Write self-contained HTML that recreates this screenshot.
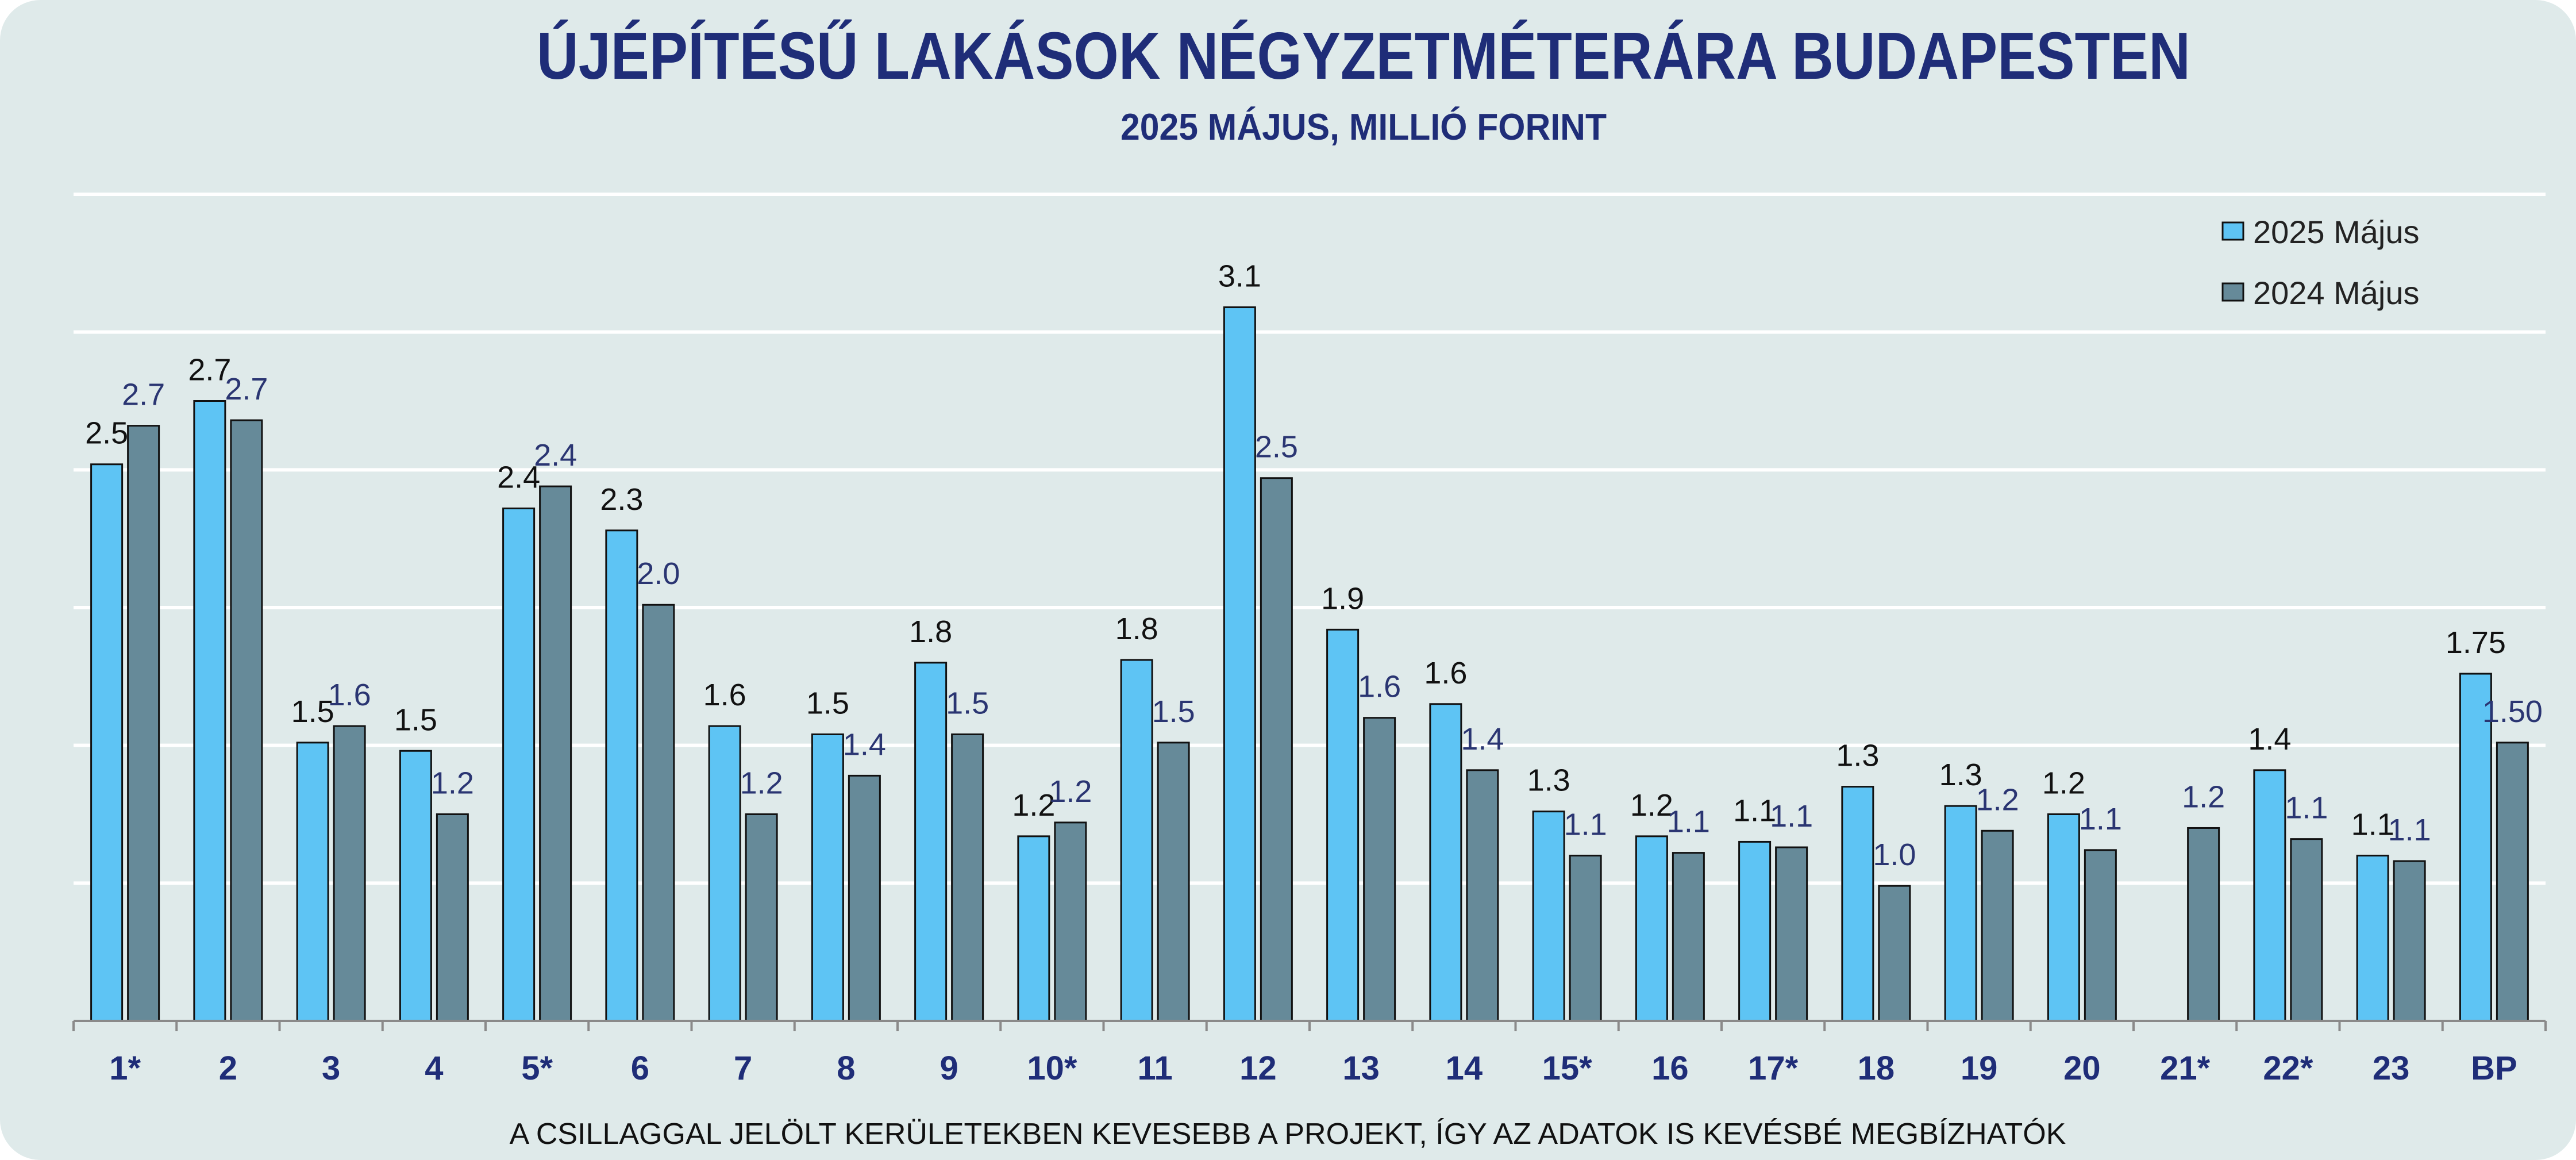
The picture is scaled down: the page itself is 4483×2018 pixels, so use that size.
<!DOCTYPE html>
<html><head><meta charset="utf-8"><style>
html,body{margin:0;padding:0;background:#fff;}
svg{display:block;font-family:"Liberation Sans",sans-serif;}
</style></head><body>
<svg id="chart" width="4483" height="2018" viewBox="0 0 4483 2018">
<rect x="0" y="0" width="4483" height="2018" rx="70" fill="#dfeaea"/>
<text x="2373" y="137" font-size="116" font-weight="bold" fill="#1f2d78" text-anchor="middle" textLength="2878" lengthAdjust="spacingAndGlyphs">ÚJÉPÍTÉSŰ LAKÁSOK NÉGYZETMÉTERÁRA BUDAPESTEN</text>
<text x="2373" y="243" font-size="65" font-weight="bold" fill="#1f2d78" text-anchor="middle" textLength="846" lengthAdjust="spacingAndGlyphs">2025 MÁJUS, MILLIÓ FORINT</text>
<g id="grid"></g>
<g id="bars"></g>
<g id="labels"></g>
<g id="axis"></g>
<g>
<rect x="3868" y="387" width="36" height="30" fill="#5ec4f4" stroke="#111" stroke-width="3"/>
<text x="3921" y="423" font-size="56" fill="#222">2025 Május</text>
<rect x="3868" y="493" width="36" height="30" fill="#668a99" stroke="#111" stroke-width="3"/>
<text x="3921" y="529" font-size="56" fill="#222">2024 Május</text>
</g>
<text x="2241" y="1990" font-size="52" fill="#111" text-anchor="middle">A CSILLAGGAL JELÖLT KERÜLETEKBEN KEVESEBB A PROJEKT, ÍGY AZ ADATOK IS KEVÉSBÉ MEGBÍZHATÓK</text>
</svg>
<script>
const categories = ["1*","2","3","4","5*","6","7","8","9","10*","11","12","13","14","15*","16","17*","18","19","20","21*","22*","23","BP"];
const values2025 = [2.52,2.75,1.51,1.48,2.36,2.28,1.57,1.54,1.80,1.17,1.81,3.09,1.92,1.65,1.26,1.17,1.15,1.35,1.28,1.25,0,1.41,1.10,1.76];
const values2024 = [2.66,2.68,1.57,1.25,2.44,2.01,1.25,1.39,1.54,1.22,1.51,2.47,1.60,1.41,1.10,1.11,1.13,0.99,1.19,1.12,1.20,1.16,1.08,1.51];
const labels2025 = ["2.5","2.7","1.5","1.5","2.4","2.3","1.6","1.5","1.8","1.2","1.8","3.1","1.9","1.6","1.3","1.2","1.1","1.3","1.3","1.2","","1.4","1.1","1.75"];
const labels2024 = ["2.7","2.7","1.6","1.2","2.4","2.0","1.2","1.4","1.5","1.2","1.5","2.5","1.6","1.4","1.1","1.1","1.1","1.0","1.2","1.1","1.2","1.1","1.1","1.50"];
const yTicks = [0.5,1.0,1.5,2.0,2.5,3.0,3.5];

const NS="http://www.w3.org/2000/svg";
const X0=128, X1=4430, YB=1776, YT=338, VMIN=0.5, VMAX=3.5;
const bw=(X1-X0)/categories.length;
function y(v){ v=Math.max(v,VMIN); return YB-(v-VMIN)/(VMAX-VMIN)*(YB-YT); }
function xc(i){ return X0+bw*(i+0.5); }
function mk(tag,attrs,parent){ const e=document.createElementNS(NS,tag); for(const k in attrs) e.setAttribute(k,attrs[k]); parent.appendChild(e); return e; }
const grid=document.getElementById('grid'), bars=document.getElementById('bars'), labels=document.getElementById('labels'), axis=document.getElementById('axis');
yTicks.forEach((t,i)=>{ if(t===VMIN) return;
  const l=mk('line',{x1:X0,x2:X1,y1:y(t),y2:y(t),stroke:'#ffffff','stroke-width':6},grid);
  
  
});
const BWID=54, OFF=32;
categories.forEach((c,i)=>{
  const cx=xc(i);
  if(values2025[i]>VMIN){
    const r=mk('rect',{x:cx-OFF-BWID/2,y:y(values2025[i]),width:BWID,height:YB-y(values2025[i]),fill:'#5ec4f4',stroke:'#111','stroke-width':3},bars);
    
    
  }
  const r2=mk('rect',{x:cx+OFF-BWID/2,y:y(values2024[i]),width:BWID,height:YB-y(values2024[i]),fill:'#668a99',stroke:'#111','stroke-width':3},bars);
  
  
  if(labels2025[i]){
    const t=mk('text',{x:cx-OFF,y:y(values2025[i])-36,'font-size':54,fill:'#111','text-anchor':'middle'},labels);
    t.textContent=labels2025[i];
    
    
  }
  const t2=mk('text',{x:cx+OFF,y:y(values2024[i])-36,'font-size':54,fill:'#2a3572','text-anchor':'middle'},labels);
  t2.textContent=labels2024[i];
  
  
  const ct=mk('text',{x:cx,y:1878,'font-size':58,'font-weight':'bold',fill:'#1f2d78','text-anchor':'middle'},axis);
  ct.textContent=c;
  
  
});
const al=mk('line',{x1:X0,x2:X1,y1:YB,y2:YB,stroke:'#8a8a8a','stroke-width':4},axis);


for(let i=0;i<=categories.length;i++){
  const tk=mk('line',{x1:X0+bw*i,x2:X0+bw*i,y1:YB,y2:YB+18,stroke:'#8a8a8a','stroke-width':4},axis);
  
  
}
</script>
</body></html>
